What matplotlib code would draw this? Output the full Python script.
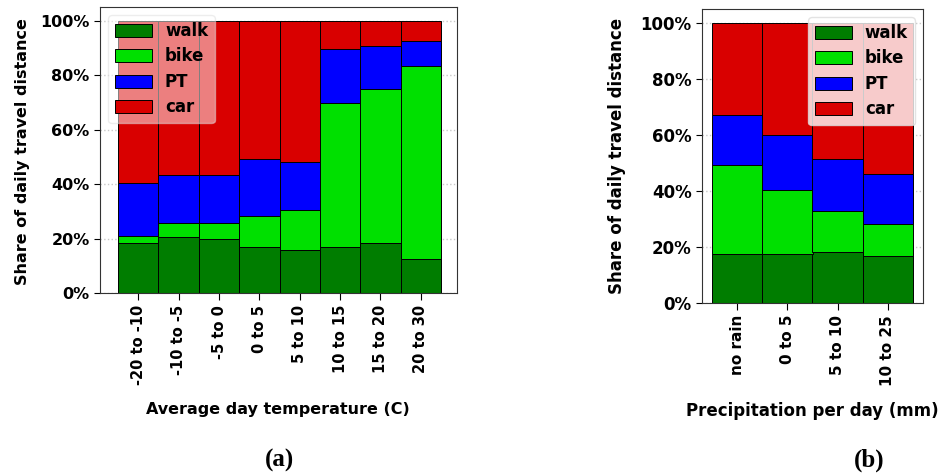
import numpy as np
import matplotlib
matplotlib.use('Agg')
import matplotlib.pyplot as plt
from matplotlib.ticker import PercentFormatter

modes = ['walk', 'bike', 'PT', 'car']
colors = ['#007d00', '#00e000', '#0000ff', '#d90000']

temp_labels = ['-20 to -10', '-10 to -5', '-5 to 0', '0 to 5',
               '5 to 10', '10 to 15', '15 to 20', '20 to 30']
temp_walk = [18.2, 20.4, 20.0, 16.9, 15.9, 16.9, 18.2, 12.5]
temp_bike = [2.8, 5.2, 5.6, 11.3, 14.6, 52.9, 56.6, 70.7]
temp_pt = [19.4, 17.9, 17.9, 21.0, 17.7, 19.8, 16.0, 9.5]
temp_car = [59.6, 56.5, 56.5, 50.8, 51.8, 10.4, 9.2, 7.3]

rain_labels = ['no rain', '0 to 5', '5 to 10', '10 to 25']
rain_walk = [17.6, 17.6, 18.1, 16.8]
rain_bike = [31.8, 22.6, 14.9, 11.5]
rain_pt = [17.9, 19.7, 18.5, 17.9]
rain_car = [32.7, 40.1, 48.5, 53.8]

plt.rcParams['font.family'] = 'DejaVu Sans'
plt.rcParams['font.weight'] = 'bold'
plt.rcParams['axes.labelweight'] = 'bold'

fig = plt.figure(figsize=(9.49, 4.74), dpi=100)
W, H = 949, 474


def stacked(ax, labels, series, xlabel, legend_loc, legend_alpha, fs):
    x = np.arange(len(labels))
    bottom = np.zeros(len(labels))
    for name, vals, c in zip(modes, series, colors):
        vals = np.array(vals) / 100
        ax.bar(x, vals, width=1.0, bottom=bottom, color=c, edgecolor='black',
               linewidth=0.7, label=name)
        bottom += vals
    ax.set_axisbelow(True)
    ax.grid(axis='y', linestyle=':', color='#c8c8c8', linewidth=1)
    ax.set_ylim(0, 1.05)
    ax.set_yticks([0, 0.2, 0.4, 0.6, 0.8, 1.0])
    ax.yaxis.set_major_formatter(PercentFormatter(1.0, decimals=0))
    ax.set_xticks(x)
    ax.set_xticklabels(labels, rotation=90, fontsize=fs - 1)
    ax.tick_params(axis='y', labelsize=fs, direction='out', length=4)
    ax.tick_params(axis='x', direction='out', length=5)
    for s in ax.spines.values():
        s.set_color('#333333')
    ax.set_ylabel('Share of daily travel distance', fontsize=fs)
    ax.set_xlabel(xlabel, fontsize=fs)
    leg = ax.legend(loc=legend_loc, fontsize=12, framealpha=legend_alpha,
                    handlelength=2.2, handleheight=0.8, labelspacing=0.45,
                    fancybox=True)
    leg.get_frame().set_edgecolor('#dddddd')


# panel (a)
ax1 = fig.add_axes([100 / W, 1 - 293 / H, 357 / W, 286 / H])
stacked(ax1, temp_labels, [temp_walk, temp_bike, temp_pt, temp_car],
        'Average day temperature (C)', 'upper left', 0.5, 11.5)
ax1.set_xlim(-0.95, 7.9)
ax1.yaxis.set_label_coords(-0.195, 0.493)
ax1.xaxis.set_label_coords(0.499, -0.381)

# panel (b)
ax2 = fig.add_axes([702 / W, 1 - 303 / H, 221 / W, 294 / H])
stacked(ax2, rain_labels, [rain_walk, rain_bike, rain_pt, rain_car],
        'Precipitation per day (mm)', 'upper right', 0.8, 12)
ax2.set_xlim(-0.7, 3.7)
ax2.yaxis.set_label_coords(-0.344, 0.5)
ax2.xaxis.set_label_coords(0.498, -0.337)

fig.text(279 / W, 1 - 460 / H, '(a)', ha='center', va='center',
         fontsize=18, fontweight='bold', family='Liberation Serif')
fig.text(869 / W, 1 - 460 / H, '(b)', ha='center', va='center',
         fontsize=18, fontweight='bold', family='Liberation Serif')

fig.savefig('out.png', dpi=100)
